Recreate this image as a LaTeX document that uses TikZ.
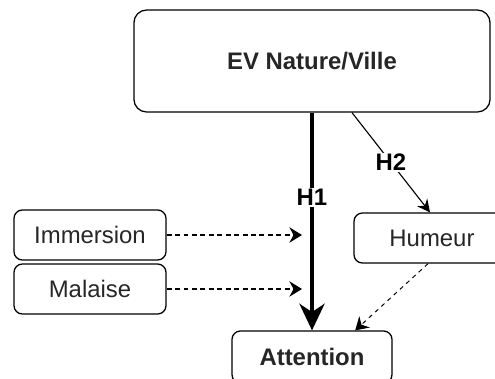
\documentclass[tikz,border=0pt]{standalone}
\usepackage{fontspec}
\setmainfont{Liberation Sans}
\usepackage{tikz}
\usetikzlibrary{arrows.meta, positioning, calc}

\tikzset{
  box/.style={draw, rounded corners=6pt, line width=0.9pt, font=\fontsize{17}{20}\selectfont, text=black!85},
  hyp/.style={fill=white, font=\fontsize{17}{20}\selectfont\bfseries, inner sep=1pt},
  dasharrow/.style={-{Stealth[length=9pt, width=11pt, inset=3pt]}, dash pattern=on 3.5pt off 2.5pt, line width=1pt}
}

\begin{document}
\begin{tikzpicture}[x=0.025cm, y=-0.025cm]
  \clip (0,0) rectangle (495,378);

  % Source
  \node[box, rounded corners=9pt, minimum width=8.9cm, minimum height=2.55cm, font=\fontsize{17}{20}\selectfont\bfseries] (ev) at (312, 61) {EV Nature/Ville};

  % Moderators
  \node[box, minimum width=3.8cm, minimum height=1.25cm] (immersion) at (90, 235) {Immersion};
  \node[box, minimum width=3.8cm, minimum height=1.25cm] (malaise) at (90, 289) {Malaise};

  % Mediator
  \node[box, minimum width=3.9cm, minimum height=1.25cm] (humeur) at (432, 238) {Humeur};

  % Outcome
  \node[box, minimum width=4cm, minimum height=1.3cm, font=\fontsize{17}{20}\selectfont\bfseries] (attention) at (312, 357) {Attention};

  % H1 direct path
  \draw[-{Stealth[length=19pt, width=18pt, inset=6pt]}, line width=2.2pt] (ev.south) -- (attention.north) node[hyp, pos=0.39] {H1};

  % H2 via humeur
  \draw[-{Stealth[length=9pt, width=9pt, inset=3pt]}, line width=0.8pt] ([xshift=1cm]ev.south) -- ([xshift=-0.05cm]humeur.north) node[hyp, midway] {H2};
  \draw[dasharrow, line width=0.7pt, dash pattern=on 3pt off 3pt] ([xshift=-0.1cm]humeur.south) -- ([xshift=1.08cm]attention.north);

  % Moderation arrows
  \coordinate (immend) at (302, 235);
  \coordinate (malend) at (302, 289);
  \draw[dasharrow] (immersion.east) -- (immend);
  \draw[dasharrow] (malaise.east) -- (malend);
\end{tikzpicture}
\end{document}
